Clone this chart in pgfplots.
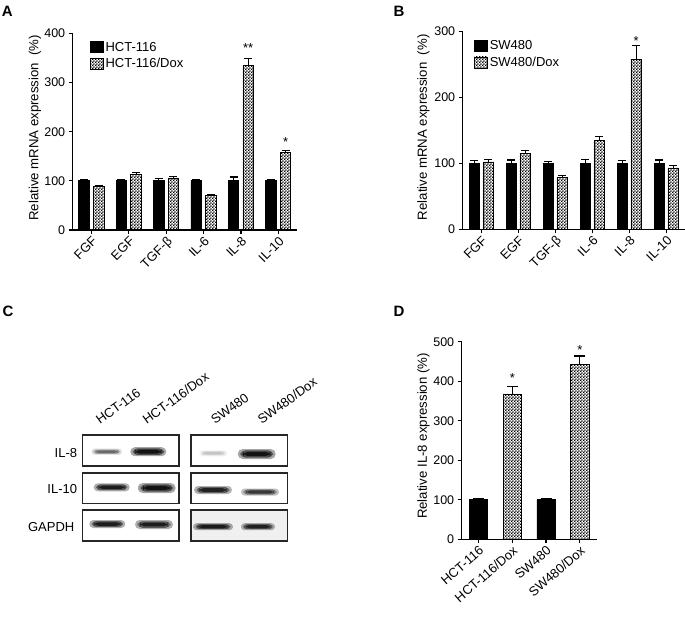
\documentclass[border=0pt]{standalone}
\usepackage{fontspec}
\setmainfont{Liberation Sans}
\usepackage{pgfplots}
\usepackage{pgfplotstable}
\pgfplotsset{compat=1.18}
\usetikzlibrary{patterns}

% fine checkerboard used for the /Dox bars
\pgfdeclarepatternformonly{fcheck}{\pgfpointorigin}{\pgfqpoint{3.2pt}{3.2pt}}{\pgfqpoint{3.2pt}{3.2pt}}{%
  \pgfpathrectangle{\pgfpointorigin}{\pgfqpoint{1.6pt}{1.6pt}}%
  \pgfpathrectangle{\pgfqpoint{1.6pt}{1.6pt}}{\pgfqpoint{1.6pt}{1.6pt}}%
  \pgfusepath{fill}}

\pgfplotstableread{
x ctl ctlerr dox doxerr
0 100 3 89 2
1 100 3 113 4
2 100 5 106 3
3 100 3 70 2
4 100 8 335 15
5 100 3 157 5
}\hctdata

\pgfplotstableread{
x ctl ctlerr dox doxerr
0 100 4 102 4
1 100 5 115 5
2 100 3 78 4
3 100 6 134 6
4 100 4 258 21
5 100 5 93 4
}\swdata

\pgfplotstableread{
x y err
0 100 3
2 100 3
}\ilctl
\pgfplotstableread{
x y err
1 368 18
3 442 22
}\ildox

\pgfplotsset{
  prism/.style={
    scale only axis,
    anchor=south west,
    axis lines=left,
    axis line style={-, line width=1.5pt},
    ymin=0,
    ybar,
    tick align=outside,
    major tick length=4pt,
    tick style={line width=1.2pt, black},
    yticklabel style={font=\fontsize{12.5}{15}\selectfont},
    xticklabel style={font=\fontsize{13}{15}\selectfont, rotate=45, anchor=north east, inner sep=1pt},
    /pgf/number format/assume math mode=true,
    ylabel style={font=\fontsize{13.2}{15}\selectfont, anchor=center},
    legend style={draw=none, fill=none, inner sep=0pt, anchor=north west,
      font=\fontsize{13}{15}\selectfont, row sep=2pt},
    legend cell align=left,
    legend image code/.code={\draw[##1] (0pt,-5.5pt) rectangle (13pt,5.5pt);},
    error bars/y dir=plus,
    error bars/y explicit,
    error bars/error bar style={line width=1.1pt, black},
    error bars/error mark options={rotate=90, mark size=4pt, line width=1.1pt, black},
  },
  ctlbar/.style={fill=black, draw=black, line width=0.8pt},
  doxbar/.style={pattern=fcheck, pattern color=black, draw=black, line width=0.8pt},
}

\newcommand{\band}[5]{%
  \pgfmathsetmacro\oa{0.35*#5}\pgfmathsetmacro\ob{0.55*#5}\pgfmathsetmacro\oc{0.75*#5}%
  \pgfmathsetmacro\ra{0.5*#4}%
  \fill[black, opacity=\oa, rounded corners=\ra pt] (#1-0.5*#3, #2-0.5*#4) rectangle (#1+0.5*#3, #2+0.5*#4);
  \fill[black, opacity=\ob, rounded corners=\ra pt] (#1-0.43*#3, #2-0.36*#4) rectangle (#1+0.43*#3, #2+0.36*#4);
  \fill[black, opacity=\oc, rounded corners=\ra pt] (#1-0.36*#3, #2-0.22*#4) rectangle (#1+0.36*#3, #2+0.22*#4);
}

\begin{document}
\begin{tikzpicture}
\useasboundingbox (0,0) rectangle (685pt,-619pt);

% ---------- A ----------
\begin{axis}[prism,
  at={(72.7pt,-230pt)}, width=224.3pt, height=196.5pt,
  ymax=400, ytick={0,100,200,300,400},
  xmin=-0.5, xmax=5.5, xtick={0,...,5},
  xticklabels={FGF,EGF,TGF-β,IL-6,IL-8,IL-10},
  bar width=10.5pt,
  ylabel={Relative mRNA expression\ \ (\%)},
  ylabel style={at={(axis description cs:-0.168,0.52)}},
  legend style={at={(axis description cs:0.075,0.968)}},
]
\addplot[ctlbar, bar shift=-7.3pt] table[x=x, y=ctl, y error=ctlerr] {\hctdata};
\addlegendentry{HCT-116}
\addplot[doxbar, bar shift=7.3pt] table[x=x, y=dox, y error=doxerr] {\hctdata};
\addlegendentry{HCT-116/Dox}
\node[anchor=base, font=\fontsize{13}{15}\selectfont] at (axis cs:4.195,361) {**};
\node[anchor=base, font=\fontsize{13}{15}\selectfont] at (axis cs:5.195,171) {*};
\end{axis}

% ---------- B ----------
\begin{axis}[prism,
  at={(462.7pt,-229.3pt)}, width=222pt, height=198pt,
  ymax=300, ytick={0,100,200,300},
  xmin=-0.5, xmax=5.5, xtick={0,...,5},
  xticklabels={FGF,EGF,TGF-β,IL-6,IL-8,IL-10},
  bar width=10.3pt,
  ylabel={Relative mRNA expression\ \ (\%)},
  ylabel style={at={(axis description cs:-0.177,0.515)}},
  legend style={at={(axis description cs:0.05,0.965)}},
]
\addplot[ctlbar, bar shift=-6.9pt] table[x=x, y=ctl, y error=ctlerr] {\swdata};
\addlegendentry{SW480}
\addplot[doxbar, bar shift=6.9pt] table[x=x, y=dox, y error=doxerr] {\swdata};
\addlegendentry{SW480/Dox}
\node[anchor=base, font=\fontsize{13}{15}\selectfont] at (axis cs:4.185,279) {*};
\end{axis}

% ---------- D ----------
\begin{axis}[prism,
  at={(461.7pt,-539.3pt)}, width=135pt, height=197.5pt,
  ymax=500, ytick={0,100,200,300,400,500},
  xmin=-0.5, xmax=3.5, xtick={0,...,3},
  xticklabels={HCT-116,HCT-116/Dox,SW480,SW480/Dox},
  xticklabel style={rotate=-4},
  bar width=18.3pt, bar shift=0pt,
  ylabel={Relative IL-8 expression (\%)},
  ylabel style={at={(axis description cs:-0.284,0.523)}},
  error bars/error mark options={rotate=90, mark size=5.5pt, line width=1.1pt, black},
]
\addplot[ctlbar] table[x=x, y=y, y error=err] {\ilctl};
\addplot[doxbar] table[x=x, y=y, y error=err] {\ildox};
\node[anchor=base, font=\fontsize{13}{15}\selectfont] at (axis cs:1,397) {*};
\node[anchor=base, font=\fontsize{13}{15}\selectfont] at (axis cs:3,469) {*};
\end{axis}

% ---------- C : western blot ----------
\begin{scope}[x=1pt, y=-1pt]
  \fill[gray!12] (190.7,510) rectangle (287.3,540.7);
  \band{106.7}{451.7}{30}{6}{0.45}
  \band{148.3}{451.7}{36}{9}{1}
  \band{111.7}{487.3}{36}{8}{0.9}
  \band{156.7}{488}{38}{10}{1}
  \band{107.3}{524}{36}{8}{0.9}
  \band{154}{524.5}{38}{9}{0.9}
  \band{213.3}{453.3}{28}{6}{0.15}
  \band{256.7}{454}{38}{10}{1}
  \band{213}{490}{38}{8}{0.85}
  \band{260}{492}{38}{7}{0.7}
  \band{213}{526.7}{40}{7}{0.9}
  \band{258}{526.7}{34}{7}{0.85}
  \foreach \ya/\yb in {435/465.7, 472.7/503.3, 510/540.7} {
    \draw[line width=1.6pt, black!85] (82.3,\ya) rectangle (179,\yb);
    \draw[line width=1.6pt, black!85] (190.7,\ya) rectangle (287.3,\yb);
  }
  \begin{scope}[font=\fontsize{13}{15}\selectfont]
    \node[anchor=east, inner sep=0pt] at (77.3,452.7) {IL-8};
    \node[anchor=east, inner sep=0pt] at (77.3,489) {IL-10};
    \node[anchor=east, inner sep=0pt] at (74.5,526.7) {GAPDH};
    \node[anchor=base west, rotate=36, inner sep=0pt] at (100,425) {HCT-116};
    \node[anchor=base west, rotate=36, inner sep=0pt] at (146.7,425) {HCT-116/Dox};
    \node[anchor=base west, rotate=36, inner sep=0pt] at (215,425) {SW480};
    \node[anchor=base west, rotate=36, inner sep=0pt] at (261.7,425) {SW480/Dox};
  \end{scope}
  % panel letters
  \begin{scope}[font=\bfseries\fontsize{15}{17}\selectfont]
    \node[anchor=base west, inner sep=0pt] at (1.7,16.7) {A};
    \node[anchor=base west, inner sep=0pt] at (393.3,16.7) {B};
    \node[anchor=base west, inner sep=0pt] at (2.5,316.3) {C};
    \node[anchor=base west, inner sep=0pt] at (393.3,316.3) {D};
  \end{scope}
\end{scope}
\end{tikzpicture}
\end{document}
